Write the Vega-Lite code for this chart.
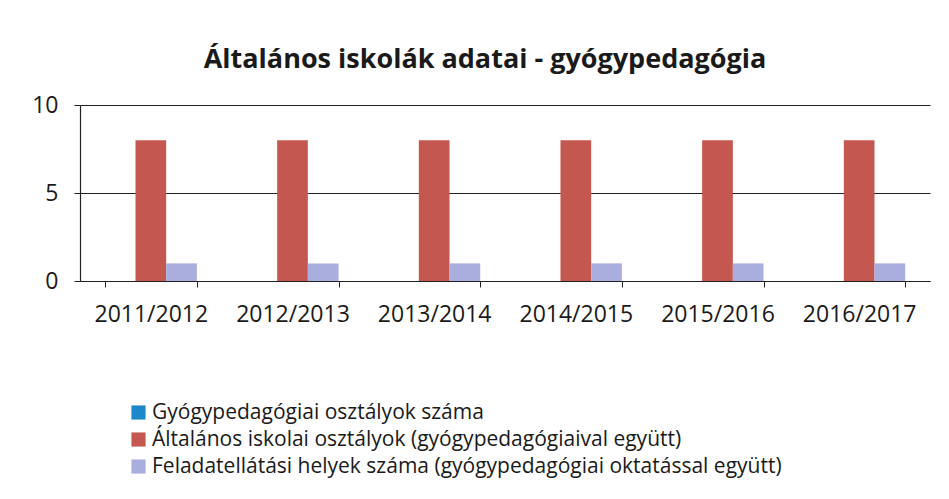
{
  "$schema": "https://vega.github.io/schema/vega-lite/v6.json",
  "autosize": "none",
  "width": 850,
  "height": 176,
  "padding": {"left": 80, "top": 105, "right": 19, "bottom": 218},
  "background": "white",
  "title": {
    "text": "Általános iskolák adatai - gyógypedagógia",
    "font": "Open Sans",
    "fontSize": 27,
    "fontWeight": "bold",
    "color": "#1a1a1a",
    "anchor": "middle",
    "dx": -20,
    "offset": 20
  },
  "data": {
    "values": [
      {"ev": "2011/2012", "sorozat": "Gyógypedagógiai osztályok száma", "s": 0, "ertek": 0},
      {"ev": "2011/2012", "sorozat": "Általános iskolai osztályok (gyógypedagógiaival együtt)", "s": 1, "ertek": 8},
      {"ev": "2011/2012", "sorozat": "Feladatellátási helyek száma (gyógypedagógiai oktatással együtt)", "s": 2, "ertek": 1},
      {"ev": "2012/2013", "sorozat": "Gyógypedagógiai osztályok száma", "s": 0, "ertek": 0},
      {"ev": "2012/2013", "sorozat": "Általános iskolai osztályok (gyógypedagógiaival együtt)", "s": 1, "ertek": 8},
      {"ev": "2012/2013", "sorozat": "Feladatellátási helyek száma (gyógypedagógiai oktatással együtt)", "s": 2, "ertek": 1},
      {"ev": "2013/2014", "sorozat": "Gyógypedagógiai osztályok száma", "s": 0, "ertek": 0},
      {"ev": "2013/2014", "sorozat": "Általános iskolai osztályok (gyógypedagógiaival együtt)", "s": 1, "ertek": 8},
      {"ev": "2013/2014", "sorozat": "Feladatellátási helyek száma (gyógypedagógiai oktatással együtt)", "s": 2, "ertek": 1},
      {"ev": "2014/2015", "sorozat": "Gyógypedagógiai osztályok száma", "s": 0, "ertek": 0},
      {"ev": "2014/2015", "sorozat": "Általános iskolai osztályok (gyógypedagógiaival együtt)", "s": 1, "ertek": 8},
      {"ev": "2014/2015", "sorozat": "Feladatellátási helyek száma (gyógypedagógiai oktatással együtt)", "s": 2, "ertek": 1},
      {"ev": "2015/2016", "sorozat": "Gyógypedagógiai osztályok száma", "s": 0, "ertek": 0},
      {"ev": "2015/2016", "sorozat": "Általános iskolai osztályok (gyógypedagógiaival együtt)", "s": 1, "ertek": 8},
      {"ev": "2015/2016", "sorozat": "Feladatellátási helyek száma (gyógypedagógiai oktatással együtt)", "s": 2, "ertek": 1},
      {"ev": "2016/2017", "sorozat": "Gyógypedagógiai osztályok száma", "s": 0, "ertek": 0},
      {"ev": "2016/2017", "sorozat": "Általános iskolai osztályok (gyógypedagógiaival együtt)", "s": 1, "ertek": 8},
      {"ev": "2016/2017", "sorozat": "Feladatellátási helyek száma (gyógypedagógiai oktatással együtt)", "s": 2, "ertek": 1}
    ]
  },
  "mark": {"type": "bar"},
  "encoding": {
    "x": {
      "field": "ev",
      "type": "nominal",
      "title": null,
      "scale": {"paddingInner": 0.35, "paddingOuter": 0.175},
      "axis": {
        "labelAngle": 0,
        "labelFont": "Open Sans",
        "labelFontSize": 23,
        "labelColor": "#1a1a1a",
        "labelPadding": 16,
        "domainColor": "#222222",
        "domainWidth": 1.2,
        "tickColor": "#222222",
        "tickSize": 6,
        "tickBand": "extent",
        "grid": false
      }
    },
    "xOffset": {"field": "s", "type": "ordinal", "scale": {"paddingInner": 0, "paddingOuter": 0}},
    "y": {
      "field": "ertek",
      "type": "quantitative",
      "title": null,
      "scale": {"domain": [0, 10], "nice": false},
      "axis": {
        "values": [0, 5, 10],
        "labelFont": "Open Sans",
        "labelFontSize": 23,
        "labelColor": "#1a1a1a",
        "labelPadding": 16,
        "domainColor": "#222222",
        "domainWidth": 1.2,
        "tickColor": "#222222",
        "tickSize": 6,
        "grid": true,
        "gridColor": "#222222",
        "gridWidth": 1.2
      }
    },
    "color": {
      "field": "sorozat",
      "type": "nominal",
      "scale": {
        "domain": ["Gyógypedagógiai osztályok száma", "Általános iskolai osztályok (gyógypedagógiaival együtt)", "Feladatellátási helyek száma (gyógypedagógiai oktatással együtt)"],
        "range": ["#1c87c9", "#c4574f", "#a9aedf"]
      },
      "legend": {
        "title": null,
        "orient": "none",
        "legendX": 48,
        "legendY": 297,
        "symbolType": "square",
        "symbolSize": 200,
        "symbolStrokeWidth": 0,
        "symbolOpacity": 1,
        "labelFont": "Open Sans",
        "labelFontSize": 21,
        "labelColor": "#1a1a1a",
        "labelOffset": 3,
        "labelLimit": 820,
        "rowPadding": 5
      }
    }
  },
  "config": {"view": {"stroke": null}}
}
